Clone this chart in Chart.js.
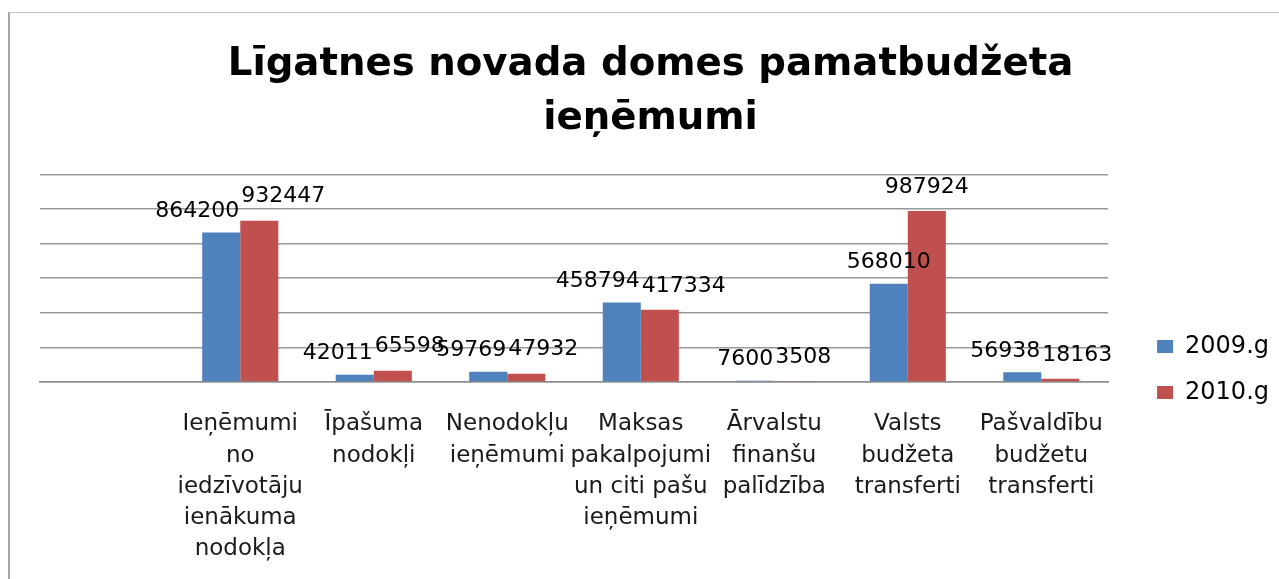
<!DOCTYPE html>
<html>
<head>
<meta charset="utf-8">
<script src="https://cdn.jsdelivr.net/npm/chart.js@4/dist/chart.umd.min.js"></script>
<style>
    body { margin: 0; background: #fff; }
    #wrap { position: relative; width: 1279px; height: 579px; overflow: hidden; }
    #frame { position: absolute; left: 8px; top: 12px; right: -10px; bottom: -10px;
             border-left: 2px solid #a6a6a6; border-top: 1px solid #c4c4c4; }
    canvas { position: absolute; left: 0; top: 0; }
</style>
</head>
<body>
<div id="wrap">
    <div id="frame"></div>
    <canvas id="budgetChart" width="1279" height="579"></canvas>
</div>
<script>
// categories (first slot is empty in the original chart)
var categories = [
    '',
    ['Ieņēmumi', 'no', 'iedzīvotāju', 'ienākuma', 'nodokļa'],
    ['Īpašuma', 'nodokļi'],
    ['Nenodokļu', 'ieņēmumi'],
    ['Maksas', 'pakalpojumi', 'un citi pašu', 'ieņēmumi'],
    ['Ārvalstu', 'finanšu', 'palīdzība'],
    ['Valsts', 'budžeta', 'transferti'],
    ['Pašvaldību', 'budžetu', 'transferti']
];
var values2009 = [null, 864200, 42011, 59769, 458794, 7600, 568010, 56938];
var values2010 = [null, 932447, 65598, 47932, 417334, 3508, 987924, 18163];
var seriesNames = ['2009.g', '2010.g'];

var FONT = "'DejaVu Sans', sans-serif";

// value labels above the bars, pushed apart when a pair overlaps
var barLabels = {
    id: 'barLabels',
    afterDatasetsDraw: function (chart) {
        var ctx = chart.ctx;
        var m0 = chart.getDatasetMeta(0), m1 = chart.getDatasetMeta(1);
        ctx.save();
        ctx.font = '22px ' + FONT;
        ctx.fillStyle = '#000';
        ctx.textAlign = 'center';
        ctx.textBaseline = 'middle';
        for (var i = 0; i < categories.length; i++) {
            var v0 = chart.data.datasets[0].data[i], v1 = chart.data.datasets[1].data[i];
            if (v0 == null || v1 == null) continue;
            var b0 = m0.data[i], b1 = m1.data[i];
            var t0 = String(v0), t1 = String(v1);
            var w0 = ctx.measureText(t0).width, w1 = ctx.measureText(t1).width;
            var x0 = b0.x, x1 = b1.x;
            var y0 = b0.y - 21, y1 = b1.y - 24;
            var need = (w0 + w1) / 2 + 2;
            if (Math.abs(y0 - y1) < 24 && x1 - x0 < need) {
                var push = (need - (x1 - x0)) / 2;
                x0 -= push;
                x1 += push;
            }
            ctx.fillText(t0, x0, y0);
            ctx.fillText(t1, x1, y1);
        }
        ctx.restore();
    }
};

var ctx = document.getElementById('budgetChart').getContext('2d');
var budgetChart = new Chart(ctx, {
    type: 'bar',
    data: {
        labels: categories,
        datasets: [{
            label: seriesNames[0],
            data: values2009,
            backgroundColor: '#4F81BD'
        }, {
            label: seriesNames[1],
            data: values2010,
            backgroundColor: '#C0504D'
        }]
    },
    options: {
        responsive: false,
        animation: false,
        layout: { padding: { left: 22, right: 0, top: 0, bottom: 0 } },
        categoryPercentage: 0.57,
        barPercentage: 1.0,
        plugins: {
            title: {
                display: true,
                text: ['Līgatnes novada domes pamatbudžeta', 'ieņēmumi'],
                color: '#000',
                font: { family: FONT, size: 38.7, weight: 'bold', lineHeight: 1.4 },
                padding: { top: 38, bottom: 28 }
            },
            legend: {
                position: 'right',
                title: {
                    display: true,
                    text: ' ',
                    font: { size: 10, lineHeight: 1 },
                    padding: { top: 75, bottom: 75 }
                },
                labels: {
                    color: '#000',
                    font: { family: FONT, size: 24 },
                    boxWidth: 16,
                    boxHeight: 13,
                    padding: 22
                }
            },
            tooltip: { enabled: false }
        },
        scales: {
            x: {
                grid: { display: false },
                border: { color: '#8c8c8c', width: 1.5 },
                ticks: {
                    color: '#1a1a1a',
                    font: { family: FONT, size: 23, lineHeight: 1.35 },
                    padding: 19,
                    maxRotation: 0,
                    autoSkip: false
                },
                afterFit: function (scale) { scale.height = 197; }
            },
            y: {
                min: 0,
                max: 1200000,
                ticks: { display: false, stepSize: 200000 },
                grid: { color: '#999', lineWidth: 1.5, drawTicks: false },
                border: { display: false },
                afterFit: function (scale) { scale.width = 18; }
            },
            yGap: {
                position: 'right',
                min: 0,
                max: 1,
                ticks: { display: false },
                grid: { display: false },
                border: { display: false },
                afterFit: function (scale) { scale.width = 27; }
            }
        }
    },
    plugins: [barLabels]
});
</script>
</body>
</html>
